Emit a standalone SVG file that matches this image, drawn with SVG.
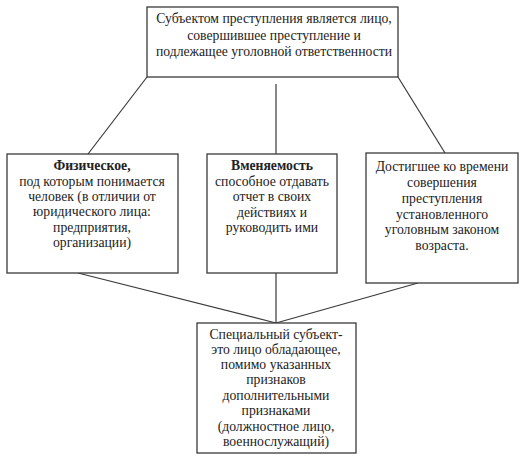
<svg xmlns="http://www.w3.org/2000/svg" width="522" height="461" viewBox="0 0 522 461">
<style>
.box{fill:#fff;stroke:#3a3a3a;stroke-width:1.3}
.ln{stroke:#3a3a3a;stroke-width:1.2;fill:none}
text{font-family:'Liberation Serif',serif;font-size:13.7px;fill:#222;text-anchor:middle}
.b{font-weight:bold}
</style>
<rect width="522" height="461" fill="#fff"/>
<g id="connectors">
<line class="ln" x1="147" y1="77" x2="88" y2="154"/>
<line class="ln" x1="276" y1="84" x2="276" y2="154"/>
<line class="ln" x1="398" y1="77" x2="445" y2="153"/>
<line class="ln" x1="78" y1="273" x2="276" y2="323"/>
<line class="ln" x1="276" y1="273" x2="276" y2="323"/>
<line class="ln" x1="418" y1="283" x2="276" y2="323"/>
</g>
<g id="top">
<rect class="box" x="147" y="7" width="251" height="70"/>
<text x="274" y="23">Субъектом преступления является лицо,</text>
<text x="274" y="40">совершившее преступление и</text>
<text x="274" y="56">подлежащее уголовной ответственности</text>
</g>
<g id="phys">
<rect class="box" x="7" y="154" width="171" height="119"/>
<text x="92" y="170" class="b">Физическое,</text>
<text x="92" y="186">под которым понимается</text>
<text x="92" y="201">человек (в отличии от</text>
<text x="92" y="216">юридического лица:</text>
<text x="92" y="232">предприятия,</text>
<text x="92" y="247">организации)</text>
</g>
<g id="sanity">
<rect class="box" x="207" y="154" width="130" height="119"/>
<text x="272" y="170" class="b">Вменяемость</text>
<text x="272" y="186">способное отдавать</text>
<text x="272" y="201">отчет в своих</text>
<text x="272" y="217">действиях и</text>
<text x="272" y="232">руководить ими</text>
</g>
<g id="age">
<rect class="box" x="366" y="153" width="152" height="130"/>
<text x="442" y="171">Достигшее ко времени</text>
<text x="442" y="187">совершения</text>
<text x="442" y="203">преступления</text>
<text x="442" y="219">установленного</text>
<text x="442" y="234">уголовным законом</text>
<text x="442" y="250">возраста.</text>
</g>
<g id="special">
<rect class="box" x="197" y="323" width="159" height="130"/>
<text x="276" y="339">Специальный субъект-</text>
<text x="276" y="354">это лицо обладающее,</text>
<text x="276" y="369">помимо указанных</text>
<text x="276" y="384">признаков</text>
<text x="276" y="400">дополнительными</text>
<text x="276" y="415">признаками</text>
<text x="276" y="431">(должностное лицо,</text>
<text x="276" y="446">военнослужащий)</text>
</g>
</svg>
